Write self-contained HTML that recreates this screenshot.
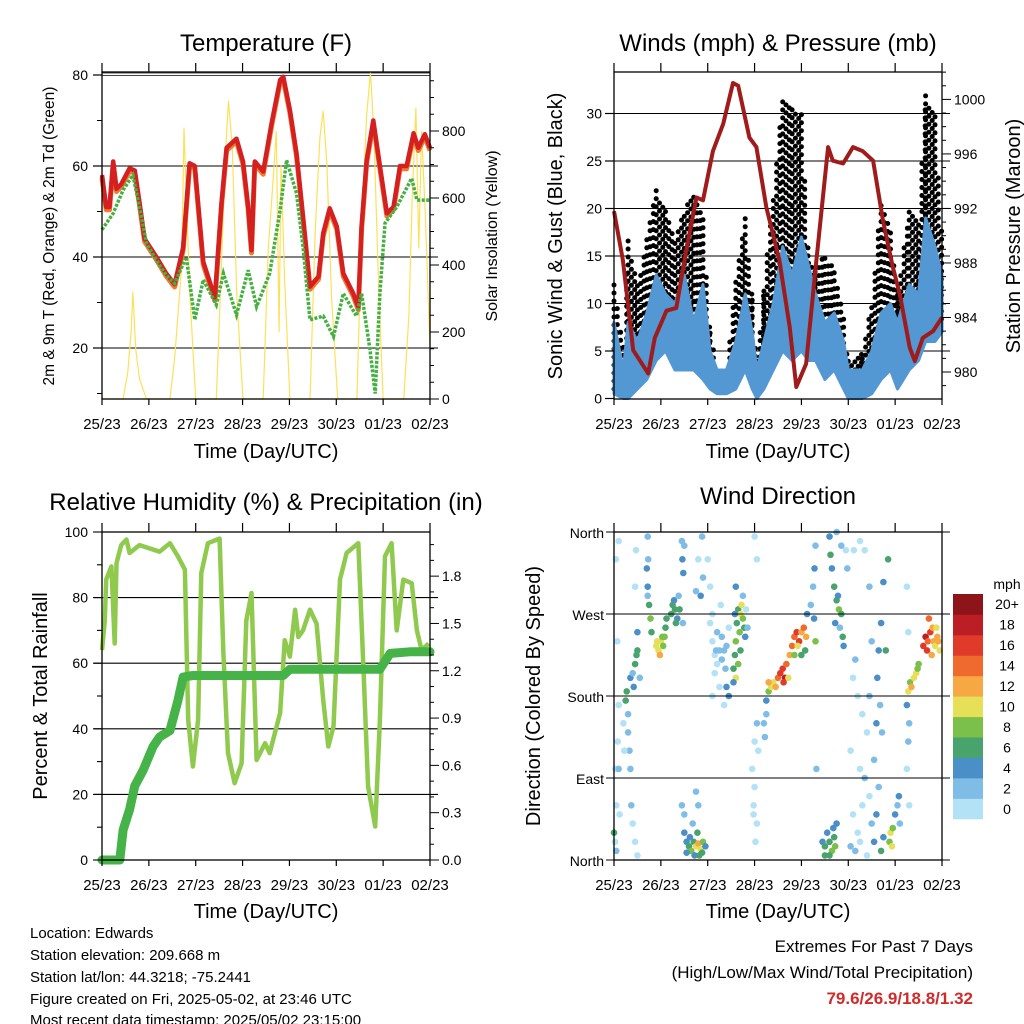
<!DOCTYPE html>
<html><head><meta charset="utf-8"><style>
html,body{margin:0;padding:0;background:#fff;}
svg{display:block;font-family:"Liberation Sans",sans-serif;}
</style></head><body>
<svg id="chart" width="1024" height="1024" viewBox="0 0 1024 1024" xmlns="http://www.w3.org/2000/svg">
<rect width="1024" height="1024" fill="#fff"/>
<g font-size="24" text-anchor="middle" fill="#000">
<text x="266" y="51">Temperature (F)</text>
<text x="778" y="51">Winds (mph) &amp; Pressure (mb)</text>
<text x="266" y="510">Relative Humidity (%) &amp; Precipitation (in)</text>
<text x="778" y="504">Wind Direction</text>
</g>
<g font-size="20" text-anchor="middle">
<text x="266" y="458">Time (Day/UTC)</text>
<text x="778" y="458">Time (Day/UTC)</text>
<text x="266" y="918">Time (Day/UTC)</text>
<text x="778" y="918">Time (Day/UTC)</text>
<text transform="translate(54,236) rotate(-90)" font-size="15.5">2m &amp; 9m T (Red, Orange) &amp; 2m Td (Green)</text>
<text transform="translate(497,236) rotate(-90)" font-size="16">Solar Insolation (Yellow)</text>
<text transform="translate(562,236) rotate(-90)">Sonic Wind &amp; Gust (Blue, Black)</text>
<text transform="translate(1020,236) rotate(-90)">Station Pressure (Maroon)</text>
<text transform="translate(47,696) rotate(-90)">Percent &amp; Total Rainfall</text>
<text transform="translate(540,696) rotate(-90)">Direction (Colored By Speed)</text>
</g>
<g font-size="15">
<text x="30" y="938">Location: Edwards</text>
<text x="30" y="960">Station elevation: 209.668 m</text>
<text x="30" y="982">Station lat/lon: 44.3218; -75.2441</text>
<text x="30" y="1004">Figure created on Fri, 2025-05-02, at 23:46 UTC</text>
<text x="30" y="1025">Most recent data timestamp: 2025/05/02 23:15:00</text>
</g>
<g font-size="17" text-anchor="end">
<text x="973" y="952">Extremes For Past 7 Days</text>
<text x="973" y="978">(High/Low/Max Wind/Total Precipitation)</text>
<text x="973" y="1004" fill="#d02a2a" font-weight="bold">79.6/26.9/18.8/1.32</text>
</g>
<g id="plots"></g>
</svg>
<script>
// ---------- DATA ----------
const dayLabels = ["25/23","26/23","27/23","28/23","29/23","30/23","01/23","02/23"];
const tempDays = [0,.09,.16,.24,.31,.41,.59,.70,.80,.91,1.16,1.37,1.55,1.73,1.87,1.98,2.16,2.41,2.55,2.66,2.87,3.01,3.12,3.19,3.26,3.44,3.62,3.80,3.87,4.01,4.15,4.29,4.44,4.62,4.72,4.86,5.01,5.15,5.36,5.47,5.54,5.65,5.79,5.93,6.08,6.22,6.36,6.50,6.65,6.75,6.89,7.0];
const tempValues = [58,51,51,61,55,56,59.5,59,52,44,40,36.4,34,42,60.6,60,39,31,51.8,64,66,61,51,41.5,61,58.8,69.4,78.9,79.6,72.3,62.8,48.9,33.5,35.7,45.2,50.7,46.7,36.4,32,29,46.7,61.3,70,60,49.6,51,60,60,67.2,64,67,64];
const dewDays = [0,.24,.45,.66,.80,.95,1.16,1.37,1.55,1.80,1.98,2.16,2.44,2.59,2.87,3.12,3.30,3.58,3.80,3.94,4.15,4.29,4.44,4.72,4.94,5.15,5.43,5.54,5.72,5.83,5.93,6.04,6.29,6.61,6.72,7.0];
const dewValues = [46,49.6,54.7,58,51,43,39.3,36,34.2,40,26.2,35,29.5,36.4,27.3,37.1,29.1,36.4,50.3,61.3,54,42.3,26.2,27,22.5,32,27,32,19.6,10,32,47.4,51,57.3,52.5,52.5];
const solarDays = [0,.45,.55,.62,.66,.72,.80,.95,1.45,1.55,1.62,1.70,1.75,1.80,1.88,2.0,2.44,2.55,2.62,2.70,2.78,2.88,3.01,3.44,3.55,3.65,3.72,3.78,3.82,3.90,4.01,4.44,4.55,4.65,4.72,4.80,4.90,5.03,5.44,5.55,5.65,5.73,5.80,5.90,6.0,6.44,6.55,6.62,6.70,6.76,6.82,6.90,7.0];
const solarValues = [0,0,80,200,320,150,60,0,0,120,250,400,810,600,300,0,0,400,700,890,750,300,0,0,450,650,800,200,700,350,0,0,500,780,860,700,300,0,0,550,850,975,800,350,0,0,250,600,870,450,800,550,150];
const pressDays = [0,.19,.41,.73,.87,1.12,1.33,1.54,1.76,1.90,2.11,2.33,2.54,2.65,2.89,3.04,3.25,3.53,3.75,3.89,4.10,4.32,4.57,4.67,4.89,5.10,5.31,5.53,5.74,5.95,6.10,6.31,6.42,6.59,6.81,7.0];
const pressValues = [991.8,988.2,981.6,979.9,982.5,984.5,984.7,988.9,992.8,992.6,996.2,998.2,1001.2,1001,997.2,996.5,992.1,988.2,983.3,978.9,980.6,988.2,996.5,995.5,995.3,996.5,996.2,995.5,991.1,987.7,985.7,981.8,980.8,982.5,983,984];
const windDays = [0,.2,.3,.5,.7,.9,1.1,1.3,1.5,1.7,1.9,2.05,2.2,2.4,2.6,2.8,2.95,3.05,3.2,3.4,3.6,3.8,4.0,4.15,4.3,4.5,4.7,4.9,5.0,5.3,5.5,5.7,5.9,6.05,6.3,6.5,6.65,6.85,7.0];
const windHigh = [8,3,8,6,9,13,11,10,13,8,12,5,3,3,6,11,7,3,6,10,16,13,17,14,11,8,9,6,3,3,5,9,10,8,12,11,19,16,13];
const windLow = [.5,0,0,1,2,4,5,3,3,3,2,1,.5,.5,1,3,1,0,1,3,5,4,5,4,4,2,3,1,0,0,.5,2,3,1,3,4,6,6,7];
const gustHigh = [12,6,17,12,17,22,20,17,20,22,19,7,3,3,13,19,11,4,12,21,32,31,30,15,14,15,14,9,4,5,10,21,18,11,20,19,32,30,17];
const gustLow = [1,0,2,2,4,8,8,6,6,6,5,2,1,1,3,6,3,0,2,7,12,10,10,5,5,4,3,2,1,1,1,3,4,3,6,6,10,10,8];
const rhDays = [0,.06,.09,.20,.27,.31,.41,.52,.59,.80,1.23,1.45,1.62,1.77,1.84,1.94,2.05,2.12,2.26,2.51,2.59,2.69,2.83,2.98,3.08,3.19,3.30,3.48,3.58,3.80,3.90,4.01,4.12,4.19,4.29,4.44,4.58,4.72,4.83,4.94,5.08,5.22,5.47,5.58,5.68,5.83,5.93,6.04,6.18,6.29,6.43,6.61,6.72,6.82,6.97];
const rhValues = [64,73,85.5,89.5,66,90.5,96,97.7,93.6,96,94,96.6,92.6,88.5,42.7,28.5,42.7,87.5,96.6,98,63,32.6,23.4,29.5,73,81.4,30.5,35.6,32.6,44.8,67,62,76.3,68,70,76.3,72,48.8,34.6,40.7,85.5,93.6,96.6,58,22.4,10.2,42.7,92.6,96.6,70,85.5,84.4,70,64,66];
const rainDays = [0,.38,.45,.59,.70,.88,1.09,1.23,1.45,1.62,1.73,1.94,3.87,4.01,5.93,6.15,6.57,7.0];
const rainValues = [0,0,.19,.32,.47,.57,.72,.78,.82,1.01,1.16,1.17,1.17,1.21,1.21,1.31,1.32,1.32];
const dirObs = [[0.02,20,1],[0.05,60,0],[0.03,100,0],[0.08,130,1],[0.1,170,0],[0.07,240,1],[0.04,330,0],[0.1,350,0],[0,30,7],[0.05,10,2],[0.1,100,2],[0.12,50,0],
[0.25,175,6],[0.27,185,7],[0.3,160,3],[0.3,140,2],[0.33,120,3],[0.35,100,3],[0.2,150,1],[0.22,120,0],[0.35,200,4],[0.4,205,3],[0.45,215,7],[0.5,230,6],[0.5,250,5],[0.42,190,4],[0.48,225,6],[0.4,40,0],[0.45,20,1],[0.5,5,0],[0.37,60,2],[0.45,300,1],[0.47,340,0],[0.55,200,2],
[0.72,355,2],[0.73,330,3],[0.72,300,4],[0.75,280,7],[0.78,265,8],[0.8,250,6],[0.72,290,3],[0.7,320,4],
[0.9,235,10],[0.95,230,11],[1.0,240,10],[1.05,235,8],[0.98,225,12],[1.03,245,9],[0.92,240,11],[1.08,245,8],[1.1,255,7],[1.12,265,6],
[1.22,270,6],[1.25,280,7],[1.3,275,6],[1.35,265,5],[1.28,285,4],[1.38,290,3],[1.32,260,6],[1.4,275,6],
[1.46,330,4],[1.48,315,4],[1.45,350,3],[1.5,345,2],[1.47,260,2],
[1.45,60,2],[1.5,50,3],[1.5,30,4],[1.55,20,5],[1.6,15,6],[1.65,10,8],[1.7,20,7],[1.75,15,10],[1.8,18,12],[1.85,12,11],[1.9,20,8],[1.88,8,6],[1.72,5,5],[1.62,25,4],[1.78,30,6],[1.82,5,7],[1.95,15,5],[1.55,8,4],[1.75,75,3],[1.8,60,2],[1.68,40,3],
[1.75,295,2],[1.85,290,4],[1.9,310,3],[1.8,330,1],[1.88,355,2],
[2.05,260,1],[2.1,240,0],[2.15,225,1],[2.2,215,0],[2.25,230,2],[2.3,220,2],[2.35,230,3],[2.1,270,1],[2.2,250,2],[2.3,245,3],[2.15,205,0],[2.25,190,1],[2.4,235,2],[2.45,255,1],[2.0,330,0],[2.05,300,0],[2.35,170,1],[2.1,180,0],[2.28,280,1],[2.18,230,3],[2.38,210,2],[2.4,190,4],[2.45,180,4],
[2.55,210,6],[2.58,225,7],[2.6,240,8],[2.62,260,7],[2.65,275,6],[2.68,250,9],[2.7,270,10],[2.72,280,11],[2.75,265,8],[2.6,200,10],[2.65,215,8],[2.78,255,6],[2.8,245,4],[2.7,230,7],[2.55,195,4],[2.58,270,5],[2.75,290,3],[2.82,275,1],[2.85,255,2],[2.6,300,4],
[2.95,100,0],[3.0,80,1],[3.0,130,0],[3.05,150,2],[3.08,120,1],[2.98,50,0],[3.02,20,0],[3.05,330,0],[3.0,355,0],[2.98,60,1],[3.05,40,0],
[3.25,175,4],[3.3,185,8],[3.35,190,10],[3.4,195,11],[3.45,190,12],[3.5,200,14],[3.55,205,16],[3.6,210,17],[3.65,200,18],[3.68,215,15],[3.72,200,10],[3.75,225,12],[3.8,235,14],[3.85,245,15],[3.9,250,17],[3.95,240,16],[4.0,250,13],[4.05,255,14],[4.1,245,12],[3.85,225,8],[4.0,225,6],[4.08,230,7],[4.12,270,4],[3.25,160,3],[3.2,150,3],[3.22,135,2],[3.3,195,12],[3.62,195,16],[3.92,235,11],
[4.2,280,3],[4.25,300,3],[4.28,320,4],[4.3,345,2],[4.27,265,4],[4.3,240,8],[4.32,100,2],
[4.45,20,4],[4.5,15,6],[4.55,30,5],[4.6,20,7],[4.65,10,8],[4.7,25,6],[4.75,40,4],[4.5,5,7],[4.6,5,6],[4.68,35,5],[4.72,15,8],
[4.6,355,4],[4.62,335,6],[4.65,320,5],[4.7,300,6],[4.75,285,7],[4.8,275,8],[4.85,270,6],[4.78,290,5],[4.72,260,4],[4.82,255,3],[4.88,245,6],[4.9,235,5],[4.75,360,3],[4.85,345,2],[4.95,340,1],[4.98,320,2],
[5.05,120,1],[5.1,200,1],[5.15,220,2],[5.2,180,0],[5.25,100,0],[5.1,50,1],[5.2,30,0],[5.3,60,1],[5.35,90,2],[5.4,140,1],[5.45,70,0],[5.5,40,2],[5.55,110,3],[5.6,150,4],[5.62,200,4],[5.65,230,5],[5.7,260,4],[5.55,20,5],[5.6,50,4],[5.65,80,3],[5.12,340,0],[5.25,350,1],[5.35,340,1],[5.45,300,2],[5.5,240,3],[5.45,180,2],[5.3,160,1],[5.05,15,2],[5.15,10,3],[5.25,20,1],[5.4,5,1],[5.7,10,6],[5.75,25,4],[5.68,170,3],[5.72,140,2],[5.8,230,7],[5.75,305,4],[5.85,330,6],[5.9,30,10],[5.88,20,9],[5.93,15,11],[5.95,35,8],[6.0,50,4],[6.05,60,3],[6.08,70,4],[6.1,40,3],
[6.25,170,4],[6.28,185,10],[6.32,195,9],[6.35,190,12],[6.4,200,10],[6.45,205,11],[6.48,210,9],[6.5,215,8],[6.3,150,3],[6.28,130,2],[6.25,100,1],[6.3,60,1],[6.28,250,1],[6.25,300,1],
[6.6,235,16],[6.65,245,18],[6.7,240,14],[6.75,250,16],[6.8,255,13],[6.82,240,12],[6.85,235,10],[6.9,245,12],[6.95,230,10],[6.72,265,14],[6.78,225,12],[6.88,255,11],[6.68,230,16],[6.92,240,12]];
const speedBinLabels = ["0","2","4","6","8","10","12","14","16","18","20+"];
const speedBinColors = ["#b3e2f7","#80bde6","#4a8fc8","#49a36c","#7bc04a","#e6df58","#f6a844","#ee6a2d","#df3a2a","#bd1d24","#8d1519"];
const dirLabels = ["North","East","South","West","North"];

// ---------- HELPERS ----------
const NS = "http://www.w3.org/2000/svg";
const root = document.getElementById("plots");
function mk(tag, attrs, parent){ const e=document.createElementNS(NS,tag); for(const k in attrs) e.setAttribute(k,attrs[k]); (parent||root).appendChild(e); return e; }
function line(x1,y1,x2,y2,st,w,p){ return mk("line",{x1,y1,x2,y2,stroke:st,"stroke-width":w},p); }
function txt(x,y,s,anchor,size,p){ const t=mk("text",{x,y,"text-anchor":anchor,"font-size":size},p); t.textContent=s; return t; }
function pathFrom(xs,ys,fx,fy){ return xs.map((d,i)=>(i?"L":"M")+fx(d).toFixed(1)+","+fy(ys[i]).toFixed(1)).join(""); }

function frame(x0,x1,y0,y1,name){
  const g=mk("g",{});
  
  
  const dx=(x1-x0)/7;
  for(let i=0;i<=7;i++){
    const x=x0+i*dx;
    line(x,y0,x,y0-9,"#000",1.2,g); line(x,y1,x,y1+6,"#000",1.2,g);
    const t=txt(x,y1+30,dayLabels[i],"middle",15,g);
    
    
  }
  mk("rect",{x:x0,y:y0,width:x1-x0,height:y1-y0,fill:"none",stroke:"#000","stroke-width":1.3},g);
  return g;
}
function grid(x0,x1,ys,g){ ys.forEach(y=>line(x0-8,y,x1+8,y,"#000",1.1,g)); }

// ---------- PANEL 1: temperature ----------
(function(){
  const x0=102,x1=430,y0=72,y1=399;
  const xs=d=>x0+d*(x1-x0)/7, yT=v=>348-(v-20)*4.55, yS=v=>399-v*0.335;
  const bg=mk("g",{});
  
  
  grid(x0,x1,[20,40,60].map(yT),bg);
  line(x0,73,x1,73,"#444",1,bg); line(x0,75.5,x1,75.5,"#444",1,bg);
  const sol=mk("path",{d:pathFrom(solarDays,solarValues,xs,yS),fill:"none",stroke:"#fde05a","stroke-width":1.2});
  
  
  const t9=mk("path",{d:pathFrom(tempDays,tempValues.map(v=>v-0.6),xs,yT),fill:"none",stroke:"#f07a30","stroke-width":5,"stroke-linejoin":"round"});
  
  
  const t2=mk("path",{d:pathFrom(tempDays,tempValues,xs,yT),fill:"none",stroke:"#d42020","stroke-width":4.5,"stroke-linejoin":"round"});
  
  
  const dw=mk("path",{d:pathFrom(dewDays,dewValues,xs,yT),fill:"none",stroke:"#45b041","stroke-width":3.5,"stroke-dasharray":"3 1.5"});
  
  
  const g=frame(x0,x1,y0,y1,"temperature-axes");
  [20,40,60,80].forEach(v=>{ line(x0,yT(v),x0-9,yT(v),"#000",1.2,g); txt(x0-14,yT(v)+5,String(v),"end",14,g); });
  [10,30,50,70].forEach(v=>line(x0,yT(v),x0-5,yT(v),"#000",1,g));
  for(let v=0;v<=950;v+=50){ line(x1,yS(v),x1+(v%200?4:9),yS(v),"#000",1,g); }
  [0,200,400,600,800].forEach(v=>txt(x1+12,yS(v)+5,String(v),"start",14,g));
})();

// ---------- PANEL 2: winds & pressure ----------
(function(){
  const x0=614,x1=942,y0=72,y1=399;
  const xs=d=>x0+d*(x1-x0)/7, yW=v=>398.5-v*9.5, yP=p=>372-(p-980)*13.63;
  const bg=mk("g",{});
  
  
  grid(x0,x1,[5,10,15,20,25,30].map(yW),bg);
  const gg=mk("g",{fill:"#000"});
  
  
  let k=0;
  for(let i=0;i<windDays.length-1;i++){
    const xa=xs(windDays[i]), xb=xs(windDays[i+1]);
    for(let x=xa;x<xb;x+=3.3,k++){
      const f=(x-xa)/(xb-xa);
      const hi=gustHigh[i]+(gustHigh[i+1]-gustHigh[i])*f, lo=gustLow[i]+(gustLow[i+1]-gustLow[i])*f;
      const off=(k*3.7)%8;
      for(let y=yW(lo)-off;y>=yW(hi);y-=8){ mk("circle",{cx:x.toFixed(1),cy:y.toFixed(1),r:2.5},gg); }
    }
  }
  const band=windDays.map((d,i)=>xs(d).toFixed(1)+","+yW(windHigh[i]).toFixed(1)).concat(windDays.map((d,i)=>xs(d).toFixed(1)+","+yW(windLow[i]).toFixed(1)).reverse()).join(" ");
  const wb=mk("polygon",{points:band,fill:"#5398d2",stroke:"#5398d2","stroke-width":3,"stroke-linejoin":"round"});
  
  
  const pr=mk("path",{d:pathFrom(pressDays,pressValues,xs,yP),fill:"none",stroke:"#a01b1b","stroke-width":4,"stroke-linejoin":"round"});
  
  
  const g=frame(x0,x1,y0,y1,"winds-axes");
  for(let v=0;v<=30;v+=5){ line(x0,yW(v),x0-9,yW(v),"#000",1.2,g); txt(x0-12,yW(v)+5,String(v),"end",14,g); }
  for(let p=978;p<=1002;p++){ const y=yP(p); if(y<y0-1||y>y1) continue; line(x1,y,x1+(p%4?4:9),y,"#000",1,g); }
  [980,984,988,992,996,1000].forEach(p=>txt(x1+12,yP(p)+5,String(p),"start",14,g));
})();

// ---------- PANEL 3: humidity & rain ----------
(function(){
  const x0=102,x1=430,y0=532,y1=860;
  const xs=d=>x0+d*(x1-x0)/7, yR=v=>860-v*3.28, yRain=v=>860-v*157.7;
  const bg=mk("g",{});
  
  
  grid(x0,x1,[20,40,60,80].map(yR),bg);
  const rh=mk("path",{d:pathFrom(rhDays,rhValues,xs,yR),fill:"none",stroke:"#8fca4e","stroke-width":4.5,"stroke-linejoin":"round"});
  
  
  const rn=mk("path",{d:pathFrom(rainDays,rainValues,xs,yRain),fill:"none",stroke:"#45b347","stroke-width":9,"stroke-linejoin":"round","stroke-linecap":"round"});
  
  
  const g=frame(x0,x1,y0,y1,"humidity-axes");
  for(let v=0;v<=100;v+=10){ line(x0,yR(v),x0-(v%20?5:9),yR(v),"#000",1.1,g); if(v%20===0) txt(x0-14,yR(v)+5,String(v),"end",14,g); }
  for(let k=0;k<=20;k++){ const v=k/10; line(x1,yRain(v),x1+(k%3?4:9),yRain(v),"#000",1,g); if(k%3===0) txt(x1+12,yRain(v)+5,v.toFixed(1),"start",14,g); }
})();

// ---------- PANEL 4: wind direction ----------
(function(){
  const x0=614,x1=942,y0=532,y1=860;
  const xs=d=>x0+d*(x1-x0)/7, yD=deg=>860-deg*(328/360);
  const bg=mk("g",{});
  
  
  grid(x0,x1,[90,180,270].map(yD),bg);
  const pg=mk("g",{});
  
  
  dirObs.forEach(o=>{
    const bin=Math.min(10,Math.floor(o[2]/2));
    const c=mk("circle",{cx:xs(o[0]).toFixed(1),cy:yD(o[1]).toFixed(1),r:3.3,fill:speedBinColors[bin]},pg);
    
    
  });
  const g=frame(x0,x1,y0,y1,"direction-axes");
  dirLabels.forEach((s,i)=>{ const y=yD(i*90); line(x0-8,y,x1+8,y,"#000",1.1,g); txt(x0-10,y+6,s,"end",14,g); });
  const lg=mk("g",{});
  
  
  txt(1007,589,"mph","middle",14,lg);
  const bh=(819-594)/11;
  speedBinLabels.forEach((s,i)=>{
    const y=819-(i+1)*bh;
    const r=mk("rect",{x:953,y:y.toFixed(1),width:30,height:(bh+0.3).toFixed(1),fill:speedBinColors[i]},lg);
    
    
    txt(1007,y+bh/2+5,s,"middle",14,lg);
  });
})();
</script>
</body></html>
